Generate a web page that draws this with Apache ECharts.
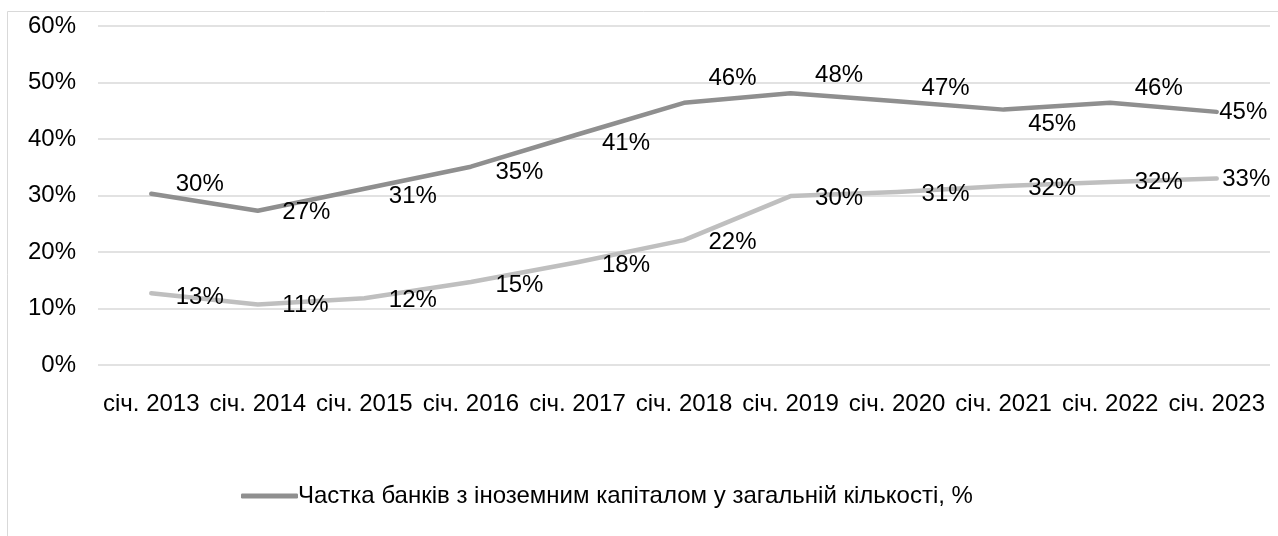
<!DOCTYPE html>
<html>
<head>
    <meta charset="utf-8">
    <script type="text/javascript" src="https://cdn.jsdelivr.net/npm/echarts@6/dist/echarts.min.js"></script>
    <style type="text/css">
        *{
            margin: 0;
            padding: 0;
        }
        #main{
            width: 1278px;
            height: 536px;
            background: #fff;
        }
    </style>
</head>
<body>
<div id="main"></div>
<script type="text/javascript">
    // дані
    var years = ['січ. 2013', 'січ. 2014', 'січ. 2015', 'січ. 2016', 'січ. 2017', 'січ. 2018',
                 'січ. 2019', 'січ. 2020', 'січ. 2021', 'січ. 2022', 'січ. 2023'];
    var shareBanks = [30.3, 27.3, 31.2, 35.1, 40.8, 46.4, 48.1, 46.7, 45.2, 46.4, 44.8];
    var shareOther = [12.7, 10.7, 11.8, 14.7, 18.2, 22.1, 29.9, 30.6, 31.7, 32.4, 33.0];
    var yTicks = [0, 10, 20, 30, 40, 50, 60];

    // зсуви підписів (dx, dy) - лише оформлення
    var darkDx = [24, 24, 24, 24, 24, 24, 24, 24, 24, 24, 2];
    var darkDy = [-9, 2, 8, 6, 9, -24, -18, -13, 15, -14, 0];
    var lightDx = [24, 24, 24, 24, 24, 24, 24, 24, 24, 24, 5];
    var lightDy = [4, 1, 2, 3, 3, 2, 2, 2, 2, 0, 1];

    var font = 'Liberation Sans, Arial, sans-serif';
    var fs = 24;

    function withLabels(values, dx, dy) {
        return values.map(function (v, i) {
            return {value: v, label: {offset: [dx[i], dy[i]]}};
        });
    }

    var myChart = echarts.init(document.getElementById('main'));
    var option = {
        animation: false,
        backgroundColor: '#fff',
        textStyle: {fontFamily: font},
        graphic: [{
            type: 'rect',
            shape: {x: 7.5, y: 11.5, width: 1300, height: 600},
            style: {fill: 'none', stroke: '#d9d9d9', lineWidth: 1}
        }],
        grid: {left: 98, right: 8, top: 26, bottom: 171},
        legend: {
            data: ['Частка банків з іноземним капіталом у загальній кількості, %'],
            left: 241,
            top: 484,
            padding: 0,
            icon: 'roundRect',
            itemWidth: 57,
            itemHeight: 5,
            itemStyle: {color: '#8f8f8f', opacity: 1},
            textStyle: {fontSize: fs, color: '#000', fontFamily: font, padding: [0, 0, 0, -5]}
        },
        xAxis: {
            type: 'category',
            data: years,
            axisLine: {show: false},
            axisTick: {show: false},
            axisLabel: {interval: 0, fontSize: fs, color: '#000', margin: 27, fontFamily: font}
        },
        yAxis: {
            type: 'value',
            min: yTicks[0],
            max: yTicks[yTicks.length - 1],
            interval: 10,
            axisLabel: {formatter: '{value}%', fontSize: fs, color: '#000', margin: 22, fontFamily: font},
            splitLine: {lineStyle: {color: '#d9d9d9', width: 1.5}}
        },
        series: [
            {
                name: 'Частка банків з іноземним капіталом у загальній кількості, %',
                type: 'line',
                data: withLabels(shareBanks, darkDx, darkDy),
                symbol: 'circle',
                symbolSize: 1,
                showSymbol: true,
                itemStyle: {color: 'rgba(0,0,0,0)'},
                lineStyle: {color: '#8f8f8f', width: 4.5, cap: 'round', join: 'round'},
                label: {
                    show: true, position: 'right', distance: 0,
                    fontSize: fs, color: '#000', fontFamily: font,
                    formatter: function (p) { return Math.round(p.value) + '%'; }
                }
            },
            {
                name: 'Частка активів банків з іноземним капіталом, %',
                type: 'line',
                data: withLabels(shareOther, lightDx, lightDy),
                symbol: 'circle',
                symbolSize: 1,
                showSymbol: true,
                itemStyle: {color: 'rgba(0,0,0,0)'},
                lineStyle: {color: '#bfbfbf', width: 4.5, cap: 'round', join: 'round'},
                label: {
                    show: true, position: 'right', distance: 0,
                    fontSize: fs, color: '#000', fontFamily: font,
                    formatter: function (p) { return Math.round(p.value) + '%'; }
                }
            }
        ]
    };
    myChart.setOption(option);
</script>
</body>
</html>
